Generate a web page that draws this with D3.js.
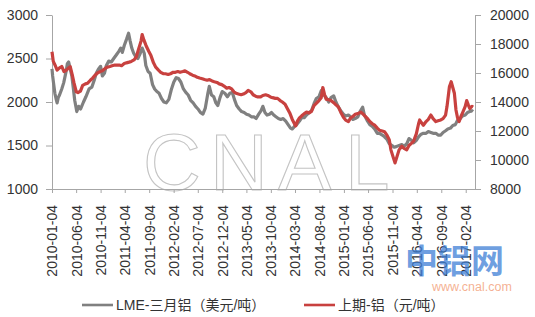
<!DOCTYPE html>
<html lang="zh">
<head>
<meta charset="UTF-8">
<title>LME-三月铝 vs 上期-铝</title>
<script src="https://d3js.org/d3.v7.min.js"></script>
<style>
  body { margin: 0; background: #fff; }
  svg text { font-family: "Liberation Sans", "Noto Sans CJK SC", sans-serif; }
</style>
</head>
<body>
<script>
// x axis labels (every 5 months)
var dateTicks = ["2010-01-04","2010-06-04","2010-11-04","2011-04-04","2011-09-04","2012-02-04",
  "2012-07-04","2012-12-04","2013-05-04","2013-10-04","2014-03-04","2014-08-04","2015-01-04",
  "2015-06-04","2015-11-04","2016-04-04","2016-09-04","2017-02-04"];
var leftTicks = [1000, 1500, 2000, 2500, 3000];
var rightTicks = [8000, 10000, 12000, 14000, 16000, 18000, 20000];
var seriesNames = ["LME-三月铝（美元/吨）", "上期-铝（元/吨）"];

// LME 3-month aluminium, USD/t (left axis)
var lme = [["2010-01-04",2380],["2010-01-08",2300],["2010-01-15",2200],["2010-01-22",2100],["2010-01-29",2040],
  ["2010-02-05",1990],["2010-02-12",2050],["2010-02-20",2080],["2010-03-06",2150],["2010-03-18",2220],
  ["2010-04-01",2340],["2010-04-10",2440],["2010-04-18",2460],["2010-04-28",2380],["2010-05-08",2300],
  ["2010-05-18",2150],["2010-05-26",2020],["2010-06-08",1890],["2010-06-20",1950],["2010-07-02",1920],
  ["2010-07-20",2000],["2010-08-04",2060],["2010-08-24",2150],["2010-09-10",2170],["2010-09-25",2250],
  ["2010-10-08",2330],["2010-10-22",2380],["2010-11-04",2410],["2010-11-15",2300],["2010-11-28",2330],
  ["2010-12-10",2420],["2010-12-25",2470],["2011-01-10",2460],["2011-01-25",2500],["2011-02-10",2540],
  ["2011-02-25",2580],["2011-03-10",2620],["2011-03-20",2570],["2011-04-01",2650],["2011-04-15",2720],
  ["2011-04-28",2790],["2011-05-08",2700],["2011-05-18",2620],["2011-05-30",2560],["2011-06-12",2520],
  ["2011-06-25",2500],["2011-07-08",2550],["2011-07-22",2620],["2011-08-04",2560],["2011-08-14",2420],
  ["2011-08-28",2350],["2011-09-10",2330],["2011-09-25",2200],["2011-10-08",2150],["2011-10-22",2120],
  ["2011-11-05",2100],["2011-11-20",2040],["2011-12-05",2000],["2011-12-20",1990],["2012-01-05",2030],
  ["2012-01-20",2140],["2012-02-05",2230],["2012-02-20",2280],["2012-03-05",2270],["2012-03-20",2230],
  ["2012-04-05",2150],["2012-04-20",2110],["2012-05-05",2080],["2012-05-20",2020],["2012-06-05",1990],
  ["2012-06-20",1950],["2012-07-05",1920],["2012-07-20",1880],["2012-08-05",1860],["2012-08-20",1930],
  ["2012-09-05",2100],["2012-09-14",2180],["2012-09-28",2080],["2012-10-12",2060],["2012-10-25",1990],
  ["2012-11-06",1960],["2012-11-20",2050],["2012-12-04",2120],["2012-12-20",2100],["2013-01-05",2060],
  ["2013-01-20",2100],["2013-02-05",2110],["2013-02-18",2030],["2013-03-04",1960],["2013-03-20",1920],
  ["2013-04-04",1890],["2013-04-20",1880],["2013-05-05",1860],["2013-05-20",1850],["2013-06-04",1830],
  ["2013-06-20",1830],["2013-07-04",1810],["2013-07-20",1860],["2013-08-04",1900],["2013-08-15",1950],
  ["2013-08-28",1880],["2013-09-10",1850],["2013-09-25",1860],["2013-10-08",1880],["2013-10-22",1850],
  ["2013-11-05",1830],["2013-11-20",1810],["2013-12-05",1800],["2013-12-20",1810],["2014-01-05",1780],
  ["2014-01-20",1740],["2014-02-04",1700],["2014-02-15",1690],["2014-03-01",1720],["2014-03-15",1740],
  ["2014-04-01",1780],["2014-04-15",1820],["2014-05-01",1820],["2014-05-15",1850],["2014-06-01",1880],
  ["2014-06-15",1900],["2014-07-01",1980],["2014-07-15",2040],["2014-08-01",2060],["2014-08-15",2130],
  ["2014-09-01",2080],["2014-09-15",2050],["2014-10-01",2000],["2014-10-15",2050],["2014-11-01",2070],
  ["2014-11-15",2000],["2014-12-01",1940],["2014-12-15",1900],["2015-01-01",1860],["2015-01-15",1840],
  ["2015-02-01",1850],["2015-02-15",1830],["2015-03-01",1800],["2015-03-15",1810],["2015-04-01",1830],
  ["2015-04-15",1890],["2015-05-01",1940],["2015-05-12",1850],["2015-06-01",1780],["2015-06-15",1740],
  ["2015-07-01",1720],["2015-07-15",1690],["2015-08-01",1640],["2015-08-15",1640],["2015-09-01",1620],
  ["2015-09-15",1600],["2015-10-01",1570],["2015-10-15",1520],["2015-11-01",1500],["2015-11-15",1480],
  ["2015-12-01",1490],["2015-12-15",1500],["2016-01-01",1510],["2016-01-15",1490],["2016-02-01",1520],
  ["2016-02-15",1580],["2016-03-01",1560],["2016-03-15",1530],["2016-04-01",1560],["2016-04-15",1600],
  ["2016-05-01",1630],["2016-05-15",1640],["2016-06-01",1640],["2016-06-15",1660],["2016-07-01",1650],
  ["2016-07-15",1640],["2016-08-01",1640],["2016-08-15",1620],["2016-09-01",1620],["2016-09-15",1650],
  ["2016-10-01",1670],["2016-10-15",1690],["2016-11-01",1700],["2016-11-15",1730],["2016-12-01",1740],
  ["2016-12-15",1790],["2017-01-01",1810],["2017-01-15",1840],["2017-02-01",1850],["2017-02-15",1880],
  ["2017-03-01",1890],["2017-03-15",1900],["2017-03-22",1890]];

// SHFE aluminium, CNY/t (right axis)
var shfe = [["2010-01-04",17470],["2010-01-12",16800],["2010-01-25",16500],["2010-02-05",16200],["2010-02-20",16350],
  ["2010-03-06",16450],["2010-03-20",16100],["2010-04-04",16200],["2010-04-18",16350],["2010-04-28",16440],
  ["2010-05-10",15900],["2010-05-22",15300],["2010-06-05",14700],["2010-06-15",14650],["2010-07-01",14750],
  ["2010-07-15",15150],["2010-08-01",15250],["2010-08-15",15300],["2010-09-01",15500],["2010-09-15",15650],
  ["2010-10-01",15850],["2010-10-15",16000],["2010-11-01",16100],["2010-11-15",16150],["2010-12-01",16300],
  ["2010-12-15",16400],["2011-01-01",16450],["2011-01-15",16500],["2011-02-01",16550],["2011-02-15",16550],
  ["2011-03-01",16550],["2011-03-15",16500],["2011-04-01",16650],["2011-04-15",16700],["2011-05-01",16750],
  ["2011-05-15",16800],["2011-06-01",16900],["2011-06-15",17100],["2011-07-01",17700],["2011-07-15",18200],
  ["2011-07-22",18650],["2011-08-01",18300],["2011-08-15",17900],["2011-09-01",17500],["2011-09-15",17200],
  ["2011-10-01",16700],["2011-10-15",16400],["2011-11-01",16200],["2011-11-15",16050],["2011-12-01",15950],
  ["2011-12-15",15950],["2012-01-01",15900],["2012-01-15",15950],["2012-02-01",16050],["2012-02-15",16050],
  ["2012-03-01",16100],["2012-03-15",16050],["2012-04-01",16100],["2012-04-15",16150],["2012-05-01",16050],
  ["2012-05-15",15950],["2012-06-01",15850],["2012-06-15",15800],["2012-07-01",15700],["2012-07-15",15650],
  ["2012-08-01",15600],["2012-08-15",15550],["2012-09-01",15500],["2012-09-15",15550],["2012-10-01",15450],
  ["2012-10-15",15400],["2012-11-01",15350],["2012-11-15",15250],["2012-12-01",15200],["2012-12-15",15100],
  ["2013-01-01",14950],["2013-01-15",15000],["2013-02-01",14900],["2013-02-15",14700],["2013-03-01",14600],
  ["2013-03-15",14550],["2013-04-01",14500],["2013-04-15",14550],["2013-05-01",14650],["2013-05-15",14800],
  ["2013-06-01",14700],["2013-06-15",14500],["2013-07-01",14400],["2013-07-15",14350],["2013-08-01",14350],
  ["2013-08-15",14450],["2013-09-01",14500],["2013-09-15",14450],["2013-10-01",14350],["2013-10-15",14300],
  ["2013-11-01",14250],["2013-11-15",14250],["2013-12-01",14100],["2013-12-15",14000],["2014-01-01",13850],
  ["2014-01-15",13550],["2014-02-01",13200],["2014-02-15",12800],["2014-03-08",12350],["2014-03-20",12700],
  ["2014-04-01",12900],["2014-04-15",13050],["2014-05-01",13200],["2014-05-15",13300],["2014-06-01",13250],
  ["2014-06-15",13350],["2014-07-01",13750],["2014-07-15",13900],["2014-08-01",14100],["2014-08-15",14300],
  ["2014-08-25",15000],["2014-09-05",14500],["2014-09-15",14200],["2014-10-01",14150],["2014-10-15",14100],
  ["2014-11-01",13950],["2014-11-15",13800],["2014-12-01",13650],["2014-12-15",13300],["2015-01-01",12950],
  ["2015-01-15",12750],["2015-02-01",12650],["2015-02-15",12900],["2015-03-01",13000],["2015-03-15",13150],
  ["2015-04-01",13200],["2015-04-20",13300],["2015-05-10",13100],["2015-06-01",12850],["2015-06-15",12650],
  ["2015-07-01",12500],["2015-07-15",12400],["2015-08-01",12200],["2015-08-15",12050],["2015-09-01",12000],
  ["2015-09-15",11950],["2015-10-01",11700],["2015-10-15",11380],["2015-10-25",10700],["2015-11-08",10200],
  ["2015-11-20",9800],["2015-12-01",10200],["2015-12-15",10700],["2016-01-01",10950],["2016-01-15",10800],
  ["2016-02-01",10700],["2016-02-15",11000],["2016-03-01",11150],["2016-03-15",11300],["2016-04-01",11800],
  ["2016-04-15",12500],["2016-04-22",12760],["2016-05-01",12600],["2016-05-15",12400],["2016-06-01",12650],
  ["2016-06-15",12800],["2016-07-01",13100],["2016-07-15",12850],["2016-08-01",12650],["2016-08-15",12700],
  ["2016-09-01",12760],["2016-09-15",12850],["2016-10-01",13100],["2016-10-10",13700],["2016-10-25",15050],
  ["2016-11-05",15400],["2016-11-15",15000],["2016-11-25",14600],["2016-12-05",13450],["2016-12-15",12900],
  ["2016-12-25",12650],["2017-01-05",13000],["2017-01-15",13250],["2017-02-01",13700],["2017-02-10",14100],
  ["2017-02-20",13800],["2017-03-01",13550],["2017-03-15",13700],["2017-03-22",13650]];

var width = 535, height = 317;
var plotLeft = 52, plotRight = 475, plotTop = 15, plotBottom = 189;
var parse = d3.timeParse("%Y-%m-%d");
var axisColor = "#a6a6a6", textColor = "#333";
var grayColor = "#808080", redColor = "#c8413f";

var svg = d3.select("body").append("svg")
    .attr("width", width)
    .attr("height", height);

var x = d3.scaleTime()
    .domain([parse("2010-01-04"), parse("2017-04-03")])
    .range([plotLeft, plotRight]);
var yL = d3.scaleLinear().domain([1000, 3000]).range([plotBottom, plotTop]);
var yR = d3.scaleLinear().domain([8000, 20000]).range([plotBottom, plotTop]);

// watermark
var wm = svg.append("g")
    .attr("fill", "none")
    .attr("stroke", "#c4c4c4")
    .attr("stroke-width", 1.1)
    .style("font-size", "80px");
[["C", 143], ["N", 210], ["A", 278], ["L", 345]].forEach(function(d) {
    wm.append("text").attr("x", d[1]).attr("y", 190).text(d[0]);
});

function styleAxis(g) {
    g.select(".domain").attr("stroke", axisColor).attr("stroke-width", 1);
    g.selectAll(".tick line").attr("stroke", axisColor);
    g.selectAll("text").attr("fill", textColor).style("font-size", "14px");
}

svg.append("g")
    .attr("transform", "translate(" + plotLeft + ",0)")
    .call(d3.axisLeft(yL).tickValues(leftTicks).tickFormat(d3.format("d"))
        .tickSize(6).tickSizeOuter(0).tickPadding(8))
    .call(styleAxis);

svg.append("g")
    .attr("transform", "translate(" + plotRight + ",0)")
    .call(d3.axisRight(yR).tickValues(rightTicks).tickFormat(d3.format("d"))
        .tickSize(6).tickSizeOuter(0).tickPadding(9))
    .call(styleAxis);

var xAxis = svg.append("g")
    .attr("transform", "translate(0," + plotBottom + ")")
    .call(d3.axisBottom(x)
        .tickValues(dateTicks.map(parse))
        .tickFormat(d3.timeFormat("%Y-%m-%d"))
        .tickSize(4).tickSizeOuter(0))
    .call(styleAxis);
xAxis.selectAll(".tick text")
    .attr("transform", "rotate(-90)")
    .attr("x", -16)
    .attr("y", 0)
    .attr("dy", "0.35em")
    .style("text-anchor", "end");

// lines
var lineL = d3.line().x(function(d) { return x(parse(d[0])); }).y(function(d) { return yL(d[1]); });
var lineR = d3.line().x(function(d) { return x(parse(d[0])); }).y(function(d) { return yR(d[1]); });

svg.append("path").datum(lme)
    .attr("d", lineL)
    .attr("fill", "none")
    .attr("stroke", grayColor)
    .attr("stroke-width", 3.2)
    .attr("stroke-linejoin", "round");

svg.append("path").datum(shfe)
    .attr("d", lineR)
    .attr("fill", "none")
    .attr("stroke", redColor)
    .attr("stroke-width", 3.2)
    .attr("stroke-linejoin", "round");

// logo
svg.append("text")
    .attr("x", 405).attr("y", 273)
    .attr("fill", "#3f7fd6").attr("fill-opacity", 0.75)
    .style("font-size", "33px").style("font-weight", "bold")
    .style("font-family", "'Noto Sans CJK SC', sans-serif")
    .text("中铝网");
svg.append("text")
    .attr("x", 432).attr("y", 291)
    .attr("fill", "#f3a27e").attr("fill-opacity", 0.85)
    .style("font-size", "12.5px")
    .text("www.cnal.com");

// legend
var legend = svg.append("g");
var legendItems = [
    { name: seriesNames[0], color: grayColor, x: 82 },
    { name: seriesNames[1], color: redColor, x: 304 }
];
legendItems.forEach(function(d) {
    legend.append("line")
        .attr("x1", d.x).attr("x2", d.x + 31)
        .attr("y1", 305).attr("y2", 305)
        .attr("stroke", d.color).attr("stroke-width", 2.6);
    legend.append("text")
        .attr("x", d.x + 34).attr("y", 305).attr("dy", "0.35em")
        .attr("fill", textColor)
        .style("font-size", "14px")
        .text(d.name);
});
</script>
</body>
</html>
